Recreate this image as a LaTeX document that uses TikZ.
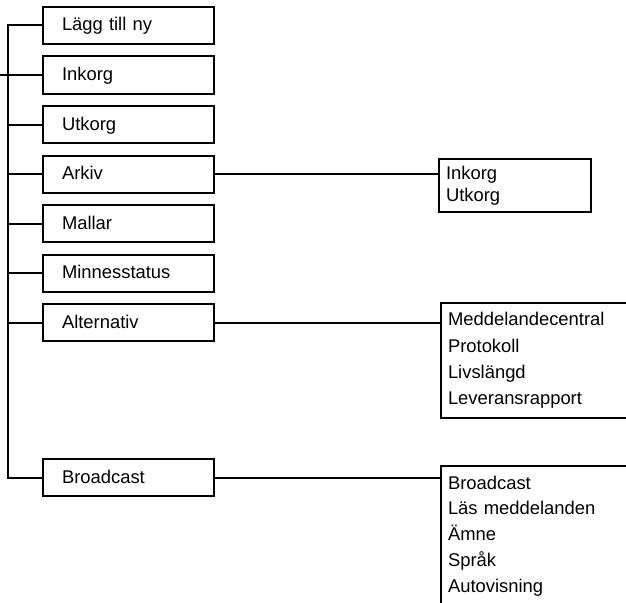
\documentclass[tikz,border=0pt]{standalone}
\usepackage{fontspec}
\setmainfont{Liberation Sans}
\usetikzlibrary{positioning}

\tikzset{
  meny/.style={draw, outer sep=0pt, minimum width=171pt, minimum height=37pt,
    text width=133pt, inner xsep=19pt, align=left, text height=14pt, text depth=3pt},
  undermeny/.style={draw, outer sep=0pt, anchor=north west, inner xsep=7pt,
    inner ysep=0pt, align=left},
}

\begin{document}
\begin{tikzpicture}[x=1pt, y=-1pt, line width=2pt, node distance=12.5pt,
    font=\fontsize{18.4}{22}\selectfont]
	\path[use as bounding box, clip] (0,0) rectangle (626,602);
	% huvudmenyn
	\node[meny, anchor=north west] (lagg) at (43,7) {Lägg till ny};
	\node[meny, below=of lagg] (inkorg) {Inkorg};
	\node[meny, below=of inkorg] (utkorg) {Utkorg};
	\node[meny, below=of utkorg] (arkiv) {Arkiv};
	\node[meny, below=of arkiv] (mallar) {Mallar};
	\node[meny, below=of mallar] (minne) {Minnesstatus};
	\node[meny, below=of minne] (alternativ) {Alternativ};
	\node[meny, below=118pt of alternativ] (broad) {Broadcast};
	% undermenyer
	\node[undermeny, minimum width=152pt, minimum height=53pt, text width=138pt]
		(arkivmeny) at (439,159) {Inkorg\\Utkorg};
	\node[undermeny, minimum width=260pt, minimum height=115pt, text width=246pt,
		font=\fontsize{18.4}{26.3}\selectfont] (altmeny) at (441,303)
		{Meddelandecentral\\Protokoll\\Livslängd\\Leveransrapport};
	\node[undermeny, minimum width=260pt, minimum height=140pt, text width=246pt,
		font=\fontsize{18.4}{25.8}\selectfont] (broadmeny) at (441,466)
		{Broadcast\\Läs meddelanden\\Ämne\\Språk\\Autovisning};
	% linjer
	\coordinate (stam) at (8,0);
	\coordinate (kant) at (0,0);
	\draw (lagg.west) -- (lagg.west -| stam) -- (broad.west -| stam) -- (broad.west);
	\foreach \n in {utkorg,arkiv,mallar,minne,alternativ}
		\draw (\n.west) -- (\n.west -| stam);
	\draw (inkorg.west) -- (inkorg.west -| kant);
	\draw (arkiv.east) -- (arkiv.east -| arkivmeny.west);
	\draw (alternativ.east) -- (alternativ.east -| altmeny.west);
	\draw (broad.east) -- (broad.east -| broadmeny.west);
\end{tikzpicture}
\end{document}
